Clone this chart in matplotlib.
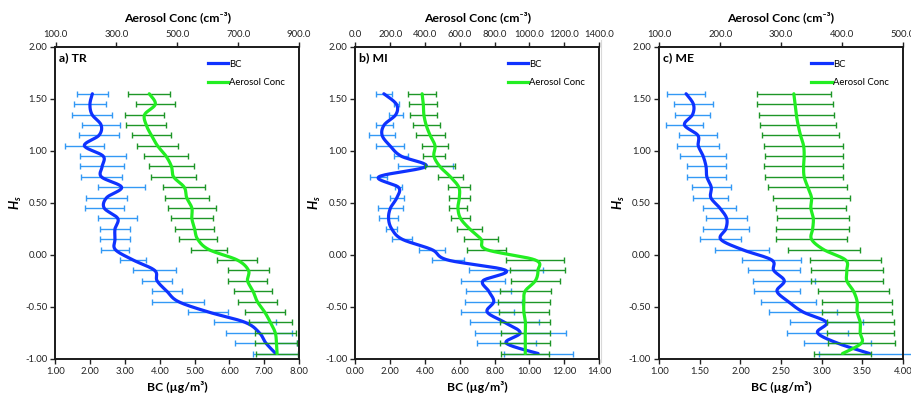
import numpy as np
import matplotlib
matplotlib.use("Agg")
import matplotlib.pyplot as plt
from matplotlib.lines import Line2D

plt.rcParams['font.family'] = ['Lato', 'DejaVu Sans']
plt.rcParams['mathtext.fontset'] = 'custom'
plt.rcParams['mathtext.it'] = 'Lato:italic:bold'
plt.rcParams['mathtext.rm'] = 'Lato:bold'

# Hs levels
hs = [1.55, 1.45, 1.35, 1.25, 1.15, 1.05, 0.95, 0.85, 0.75, 0.65, 0.55, 0.45, 0.35,
      0.25, 0.15, 0.05, -0.05, -0.15, -0.25, -0.35, -0.45, -0.55, -0.65, -0.75, -0.85, -0.95]

# Panel a) TR
tr_bc = [2.06, 1.99, 2.05, 2.31, 2.25, 1.83, 2.37, 2.34, 2.32, 2.90, 2.47, 2.40, 2.79,
         2.71, 2.71, 2.72, 3.23, 3.85, 3.92, 4.20, 4.53, 5.39, 6.45, 6.86, 7.05, 7.33]
tr_bc_err = [0.44, 0.46, 0.57, 0.54, 0.58, 0.56, 0.66, 0.64, 0.58, 0.67, 0.58, 0.56, 0.56,
             0.44, 0.44, 0.40, 0.38, 0.62, 0.43, 0.44, 0.75, 0.58, 0.88, 0.95, 0.90, 0.66]
tr_aer = [408, 428, 393, 398, 415, 435, 463, 481, 488, 523, 531, 548, 548,
          557, 567, 604, 697, 734, 731, 749, 763, 787, 806, 822, 826, 828]
tr_aer_err = [69, 63, 65, 66, 65, 67, 73, 74, 73, 69, 72, 78, 68,
              65, 62, 60, 66, 67, 64, 63, 64, 66, 71, 68, 69, 68]

# Panel b) MI
mi_bc = [1.63, 2.35, 2.32, 1.65, 1.53, 1.98, 2.62, 4.05, 1.34, 2.47, 2.38, 2.01, 1.90,
         2.08, 2.68, 4.39, 5.30, 8.64, 7.33, 7.66, 7.95, 7.57, 8.57, 9.47, 8.67, 10.50]
mi_bc_err = [0.48, 0.15, 0.40, 0.50, 0.73, 0.80, 0.41, 1.58, 0.48, 0.21, 0.42, 0.71, 0.56,
             0.32, 0.57, 0.75, 0.93, 2.13, 1.29, 1.29, 1.65, 1.53, 1.96, 2.61, 1.68, 1.98]
mi_aer = [383, 390, 393, 406, 429, 457, 451, 485, 546, 594, 597, 589, 604,
          656, 722, 754, 1033, 1049, 1034, 975, 968, 968, 977, 976, 977, 976]
mi_aer_err = [82, 80, 77, 77, 84, 74, 62, 86, 73, 63, 60, 53, 54,
              72, 99, 112, 165, 158, 139, 147, 148, 144, 144, 142, 144, 139]

# Panel c) ME
me_bc = [1.33, 1.42, 1.41, 1.31, 1.475, 1.48, 1.54, 1.576, 1.586, 1.64, 1.635, 1.746, 1.83,
         1.82, 1.756, 2.02, 2.385, 2.41, 2.54, 2.45, 2.59, 2.77, 3.06, 2.95, 3.195, 3.59]
me_bc_err = [0.23, 0.24, 0.215, 0.225, 0.23, 0.256, 0.28, 0.24, 0.24, 0.24, 0.215, 0.205, 0.254,
             0.28, 0.256, 0.33, 0.365, 0.32, 0.38, 0.28, 0.34, 0.415, 0.447, 0.373, 0.416, 0.62]
me_aer = [321, 323, 325, 328, 332, 337, 338, 337, 338, 344, 350, 349, 353,
          352, 350, 370, 406, 408, 408, 419, 425, 425, 430, 430, 432, 401]
me_aer_err = [61, 62, 62, 63, 64, 65, 64, 65, 64, 65, 64, 58, 59,
              60, 59, 59, 59, 59, 59, 58, 58, 58, 55, 55, 55, 47]

panels = [
    dict(label="a) TR", bc=tr_bc, bce=tr_bc_err, aer=tr_aer, aere=tr_aer_err,
         bcx=(1, 8), bcticks=[1, 2, 3, 4, 5, 6, 7, 8],
         aerx=(100, 900), aerticks=[100, 300, 500, 700, 900], left=55.5, clip=True),
    dict(label="b) MI", bc=mi_bc, bce=mi_bc_err, aer=mi_aer, aere=mi_aer_err,
         bcx=(0, 14), bcticks=[0, 2, 4, 6, 8, 10, 12, 14],
         aerx=(0, 1400), aerticks=[0, 200, 400, 600, 800, 1000, 1200, 1400], left=355.5, clip=True),
    dict(label="c) ME", bc=me_bc, bce=me_bc_err, aer=me_aer, aere=me_aer_err,
         bcx=(1, 4), bcticks=[1.0, 1.5, 2.0, 2.5, 3.0, 3.5, 4.0],
         aerx=(100, 500), aerticks=[100, 200, 300, 400, 500], left=659.3, clip=False),
]
yticks = [2.0, 1.5, 1.0, 0.5, 0.0, -0.5, -1.0]

W, H = 912, 396
AX_W, AX_TOP, AX_BOT = 243.5, 47.0, 358.7
AX_H = AX_BOT - AX_TOP

BLUE = '#0F32FF'
BLUE_ERR = '#3399F5'
GREEN = '#22EE22'
GREEN_ERR = '#1E9628'


def smooth(xs, ys, sx, sy, n=20):
    """Bezier (Catmull-Rom style) smoothing in pixel-like space, like a spreadsheet smoothed line."""
    P = np.column_stack([np.asarray(xs, float) * sx, np.asarray(ys, float) * sy])
    P = np.vstack([P[0], P, P[-1]])
    pts = []
    t = np.linspace(0, 1, n, endpoint=False)[:, None]
    for i in range(1, len(P) - 2):
        p0, p1, p2, p3 = P[i - 1], P[i], P[i + 1], P[i + 2]
        c1 = p1 + (p2 - p0) / 6.0
        c2 = p2 - (p3 - p1) / 6.0
        seg = (1 - t) ** 3 * p1 + 3 * (1 - t) ** 2 * t * c1 + 3 * (1 - t) * t ** 2 * c2 + t ** 3 * p2
        pts.append(seg)
    pts.append(P[-2][None])
    Q = np.vstack(pts)
    return Q[:, 0] / sx, Q[:, 1] / sy


fig = plt.figure(figsize=(W / 100, H / 100), dpi=100)

TICK_FS = 6.8
LAB_FS = 8.8

for p in panels:
    ax = fig.add_axes([p['left'] / W, 1 - AX_BOT / H, AX_W / W, AX_H / H])
    ax.set_xlim(*p['bcx'])
    ax.set_ylim(-1.0, 2.0)
    ax2 = ax.twiny()
    ax2.set_xlim(*p['aerx'])

    sx_bc = AX_W / (p['bcx'][1] - p['bcx'][0])
    sx_aer = AX_W / (p['aerx'][1] - p['aerx'][0])
    sy = AX_H / 3.0

    # error bars
    eb1 = ax.errorbar(p['bc'], hs, xerr=p['bce'], fmt='none', ecolor=BLUE_ERR,
                      elinewidth=1.0, capsize=2.3, capthick=1.0, zorder=2)
    eb2 = ax2.errorbar(p['aer'], hs, xerr=p['aere'], fmt='none', ecolor=GREEN_ERR,
                       elinewidth=1.0, capsize=2.3, capthick=1.0, zorder=2)
    for eb in (eb1, eb2):
        for art in eb.lines[1] + eb.lines[2]:
            art.set_clip_on(p['clip'])

    bx, by = smooth(p['bc'], hs, sx_bc, sy)
    gx, gy = smooth(p['aer'], hs, sx_aer, sy)
    l1, = ax.plot(bx, by, color=BLUE, lw=2.3, solid_capstyle='round', zorder=5)
    l2, = ax2.plot(gx, gy, color=GREEN, lw=2.3, solid_capstyle='round', zorder=4)

    # ticks
    ax.set_xticks(p['bcticks'])
    ax.set_xticklabels([f"{v:.2f}" for v in p['bcticks']])
    ax.set_yticks(yticks)
    ax.set_yticklabels([f"{v:.2f}" for v in yticks])
    ax2.set_xticks(p['aerticks'])
    ax2.set_xticklabels([f"{v:.1f}" for v in p['aerticks']])
    for a in (ax, ax2):
        a.tick_params(axis='both', labelsize=TICK_FS, length=3.5, width=1.0,
                      direction='out', colors='#222222', pad=2.5)
        for s in a.spines.values():
            s.set_linewidth(1.2)
            s.set_color('#1a1a1a')

    ax.set_xlabel("BC (µg/m³)", fontsize=LAB_FS, fontweight='bold', labelpad=3.5)
    ax2.set_xlabel("Aerosol Conc (cm⁻³)", fontsize=LAB_FS, fontweight='bold', labelpad=6)
    ax.set_ylabel(r"$\mathit{H}_{\mathit{s}}$", fontsize=LAB_FS + 0.5)
    ax.yaxis.set_label_coords(-32.0 / AX_W, 0.5)

    ax.text(0.015, 0.982, p['label'], transform=ax.transAxes, fontsize=8.8,
            fontweight='bold', va='top', ha='left')

    ax2.legend([Line2D([], [], color=BLUE, lw=2.3), Line2D([], [], color=GREEN, lw=2.3)],
               ["BC", "Aerosol Conc"], loc='upper left', bbox_to_anchor=(0.605, 0.975),
               frameon=False, fontsize=6.8, handlelength=2.2, handletextpad=0.1,
               labelspacing=1.05, borderpad=0.0)
    ax2.set_zorder(ax.get_zorder() + 1)
    ax2.patch.set_visible(False)

# faint chart separator
fig.add_artist(Line2D([600.8 / W, 600.8 / W], [1 - 40 / H, 1 - 362 / H],
                      color='#d9d9d9', lw=0.8))

fig.savefig("out.png", dpi=100)
